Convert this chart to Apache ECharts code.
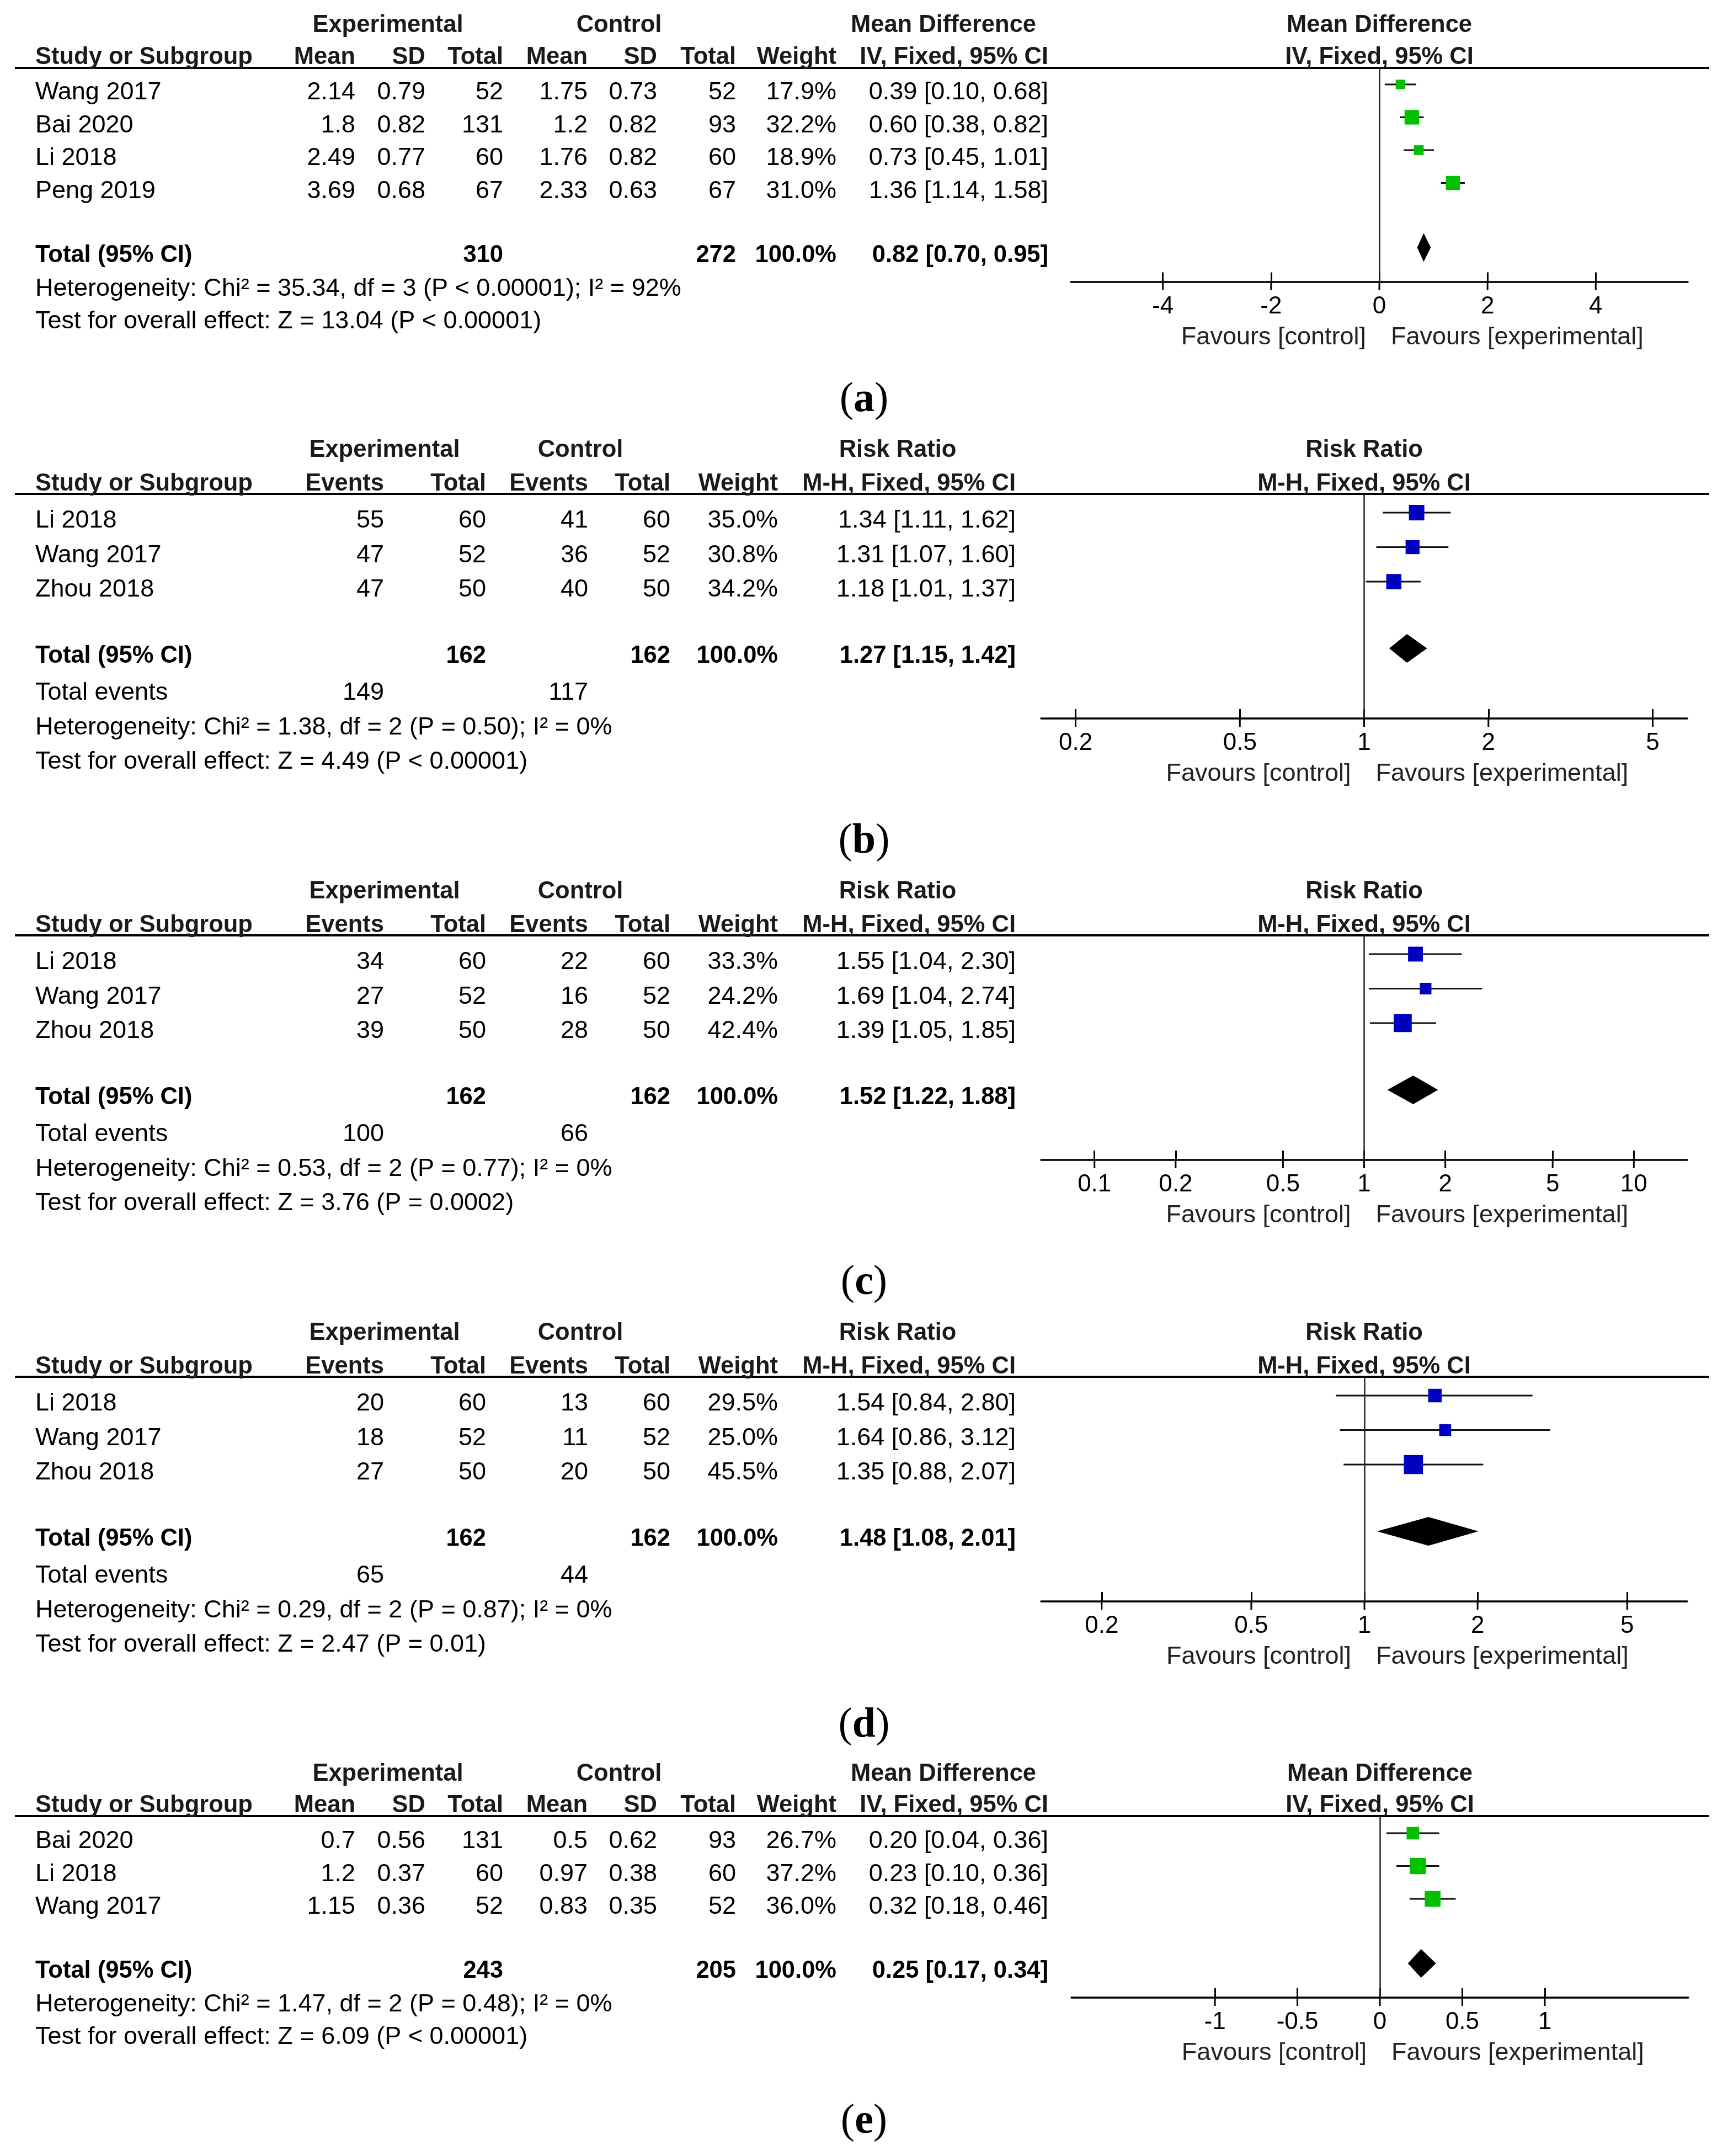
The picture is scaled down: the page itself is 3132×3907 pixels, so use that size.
<!DOCTYPE html>
<html><head><meta charset="utf-8">
<script src="https://cdn.jsdelivr.net/npm/echarts@6/dist/echarts.min.js"></script>
<style>html,body{margin:0;padding:0;background:#fff}#c{width:3132px;height:3907px}</style>
</head><body><div id="c"></div>
<script>
// ================= DATA =================
// (a) Mean Difference
const a_studies = ['Wang 2017', 'Bai 2020', 'Li 2018', 'Peng 2019'];
const a_expMean = [2.14, 1.8, 2.49, 3.69];
const a_expSD   = [0.79, 0.82, 0.77, 0.68];
const a_expN    = [52, 131, 60, 67];
const a_ctlMean = [1.75, 1.2, 1.76, 2.33];
const a_ctlSD   = [0.73, 0.82, 0.82, 0.63];
const a_ctlN    = [52, 93, 60, 67];
const a_weight  = [17.9, 32.2, 18.9, 31.0];
const a_est     = [0.39, 0.60, 0.73, 1.36];
const a_lo      = [0.10, 0.38, 0.45, 1.14];
const a_hi      = [0.68, 0.82, 1.01, 1.58];
const a_totalN  = [310, 272];
const a_totalCI = [0.82, 0.70, 0.95];
const a_het  = 'Heterogeneity: Chi² = 35.34, df = 3 (P < 0.00001); I² = 92%';
const a_test = 'Test for overall effect: Z = 13.04 (P < 0.00001)';
const a_ticks = [-4, -2, 0, 2, 4];

// (b) Risk Ratio
const b_studies = ['Li 2018', 'Wang 2017', 'Zhou 2018'];
const b_expEv  = [55, 47, 47];
const b_expN   = [60, 52, 50];
const b_ctlEv  = [41, 36, 40];
const b_ctlN   = [60, 52, 50];
const b_weight = [35.0, 30.8, 34.2];
const b_est = [1.34, 1.31, 1.18];
const b_lo  = [1.11, 1.07, 1.01];
const b_hi  = [1.62, 1.60, 1.37];
const b_totalN  = [162, 162];
const b_totalCI = [1.27, 1.15, 1.42];
const b_events  = [149, 117];
const b_het  = 'Heterogeneity: Chi² = 1.38, df = 2 (P = 0.50); I² = 0%';
const b_test = 'Test for overall effect: Z = 4.49 (P < 0.00001)';
const b_ticks = [0.2, 0.5, 1, 2, 5];

// (c) Risk Ratio
const c_studies = ['Li 2018', 'Wang 2017', 'Zhou 2018'];
const c_expEv  = [34, 27, 39];
const c_expN   = [60, 52, 50];
const c_ctlEv  = [22, 16, 28];
const c_ctlN   = [60, 52, 50];
const c_weight = [33.3, 24.2, 42.4];
const c_est = [1.55, 1.69, 1.39];
const c_lo  = [1.04, 1.04, 1.05];
const c_hi  = [2.30, 2.74, 1.85];
const c_totalN  = [162, 162];
const c_totalCI = [1.52, 1.22, 1.88];
const c_events  = [100, 66];
const c_het  = 'Heterogeneity: Chi² = 0.53, df = 2 (P = 0.77); I² = 0%';
const c_test = 'Test for overall effect: Z = 3.76 (P = 0.0002)';
const c_ticks = [0.1, 0.2, 0.5, 1, 2, 5, 10];

// (d) Risk Ratio
const d_studies = ['Li 2018', 'Wang 2017', 'Zhou 2018'];
const d_expEv  = [20, 18, 27];
const d_expN   = [60, 52, 50];
const d_ctlEv  = [13, 11, 20];
const d_ctlN   = [60, 52, 50];
const d_weight = [29.5, 25.0, 45.5];
const d_est = [1.54, 1.64, 1.35];
const d_lo  = [0.84, 0.86, 0.88];
const d_hi  = [2.80, 3.12, 2.07];
const d_totalN  = [162, 162];
const d_totalCI = [1.48, 1.08, 2.01];
const d_events  = [65, 44];
const d_het  = 'Heterogeneity: Chi² = 0.29, df = 2 (P = 0.87); I² = 0%';
const d_test = 'Test for overall effect: Z = 2.47 (P = 0.01)';
const d_ticks = [0.2, 0.5, 1, 2, 5];

// (e) Mean Difference
const e_studies = ['Bai 2020', 'Li 2018', 'Wang 2017'];
const e_expMean = [0.7, 1.2, 1.15];
const e_expSD   = [0.56, 0.37, 0.36];
const e_expN    = [131, 60, 52];
const e_ctlMean = [0.5, 0.97, 0.83];
const e_ctlSD   = [0.62, 0.38, 0.35];
const e_ctlN    = [93, 60, 52];
const e_weight  = [26.7, 37.2, 36.0];
const e_est     = [0.20, 0.23, 0.32];
const e_lo      = [0.04, 0.10, 0.18];
const e_hi      = [0.36, 0.36, 0.46];
const e_totalN  = [243, 205];
const e_totalCI = [0.25, 0.17, 0.34];
const e_het  = 'Heterogeneity: Chi² = 1.47, df = 2 (P = 0.48); I² = 0%';
const e_test = 'Test for overall effect: Z = 6.09 (P < 0.00001)';
const e_ticks = [-1, -0.5, 0, 0.5, 1];

// header texts
const mdHeader1 = ['Experimental', 'Control', 'Mean Difference'];
const mdHeader2 = ['Study or Subgroup', 'Mean', 'SD', 'Total', 'Mean', 'SD', 'Total', 'Weight', 'IV, Fixed, 95% CI'];
const mdPlotHeader = ['Mean Difference', 'IV, Fixed, 95% CI'];
const rrHeader1 = ['Experimental', 'Control', 'Risk Ratio'];
const rrHeader2 = ['Study or Subgroup', 'Events', 'Total', 'Events', 'Total', 'Weight', 'M-H, Fixed, 95% CI'];
const rrPlotHeader = ['Risk Ratio', 'M-H, Fixed, 95% CI'];
const favourLabels = ['Favours [control]', 'Favours [experimental]'];
const totalLabel = 'Total (95% CI)';
const eventsLabel = 'Total events';
const panelLetters = ['a', 'b', 'c', 'd', 'e'];

// ================= LAYOUT =================
const FONT = '"Liberation Sans", Arial, sans-serif';
const SERIF = '"Liberation Serif", "Times New Roman", serif';
const FS = 45;       // regular text
const FSB = 43.5;    // bold text
const TY = 3;        // vertical nudge for table text
const MD_COLS = [644, 771, 912, 1065, 1191, 1334, 1516, 1900];
const MD_H1X = [703, 1122, 1710];
const RR_COLS = [696, 881, 1066, 1215, 1410, 1841];
const RR_H1X = [697, 1052, 1627];
const STUDY_X = 64;
const GREEN = '#00C000', BLUE = '#0000C0';

const fmt2 = v => v.toFixed(2);
const ciText = (e, l, h) => fmt2(e) + ' [' + fmt2(l) + ', ' + fmt2(h) + ']';

const panels = [
  {kind: 'md', studies: a_studies, cols: [a_expMean, a_expSD, a_expN, a_ctlMean, a_ctlSD, a_ctlN],
   weight: a_weight, est: a_est, lo: a_lo, hi: a_hi, totN: a_totalN, totCI: a_totalCI, events: null,
   het: a_het, test: a_test, ticks: a_ticks,
   L: {h1: 41, h2: 101, line: 123, row0: 165, step: 59.5, plotL: 1941, plotR: 3059, min: -5.7, max: 5.7, log: false, nullV: 0, label: 725, color: GREEN}},
  {kind: 'rr', studies: b_studies, cols: [b_expEv, b_expN, b_ctlEv, b_ctlN],
   weight: b_weight, est: b_est, lo: b_lo, hi: b_hi, totN: b_totalN, totCI: b_totalCI, events: b_events,
   het: b_het, test: b_test, ticks: b_ticks,
   L: {h1: 811, h2: 874, line: 895, row0: 941, step: 62.5, plotL: 1887, plotR: 3058, min: 0.165, max: 6.06, log: true, nullV: 1, label: 1525, color: BLUE}},
  {kind: 'rr', studies: c_studies, cols: [c_expEv, c_expN, c_ctlEv, c_ctlN],
   weight: c_weight, est: c_est, lo: c_lo, hi: c_hi, totN: c_totalN, totCI: c_totalCI, events: c_events,
   het: c_het, test: c_test, ticks: c_ticks,
   L: {h1: 1611, h2: 1674, line: 1695, row0: 1741, step: 62.5, plotL: 1887, plotR: 3058, min: 0.0634, max: 15.77, log: true, nullV: 1, label: 2325, color: BLUE}},
  {kind: 'rr', studies: d_studies, cols: [d_expEv, d_expN, d_ctlEv, d_ctlN],
   weight: d_weight, est: d_est, lo: d_lo, hi: d_hi, totN: d_totalN, totCI: d_totalCI, events: d_events,
   het: d_het, test: d_test, ticks: d_ticks,
   L: {h1: 2411, h2: 2474, line: 2495, row0: 2541, step: 62.5, plotL: 1887, plotR: 3058, min: 0.138, max: 7.22, log: true, nullV: 1, label: 3127, color: BLUE}},
  {kind: 'md', studies: e_studies, cols: [e_expMean, e_expSD, e_expN, e_ctlMean, e_ctlSD, e_ctlN],
   weight: e_weight, est: e_est, lo: e_lo, hi: e_hi, totN: e_totalN, totCI: e_totalCI, events: null,
   het: e_het, test: e_test, ticks: e_ticks,
   L: {h1: 3210, h2: 3269, line: 3291, row0: 3334, step: 59.5, plotL: 1942, plotR: 3060, min: -1.87, max: 1.87, log: false, nullV: 0, label: 3845, color: GREEN}}
];

// ================= BUILD =================
const grids = [], xAxes = [], yAxes = [], series = [], graphics = [];
let gid = 0;
function txt(x, y, text, opt) {
  opt = opt || {};
  graphics.push({
    type: 'text', id: 't' + (gid++), x: x, y: y + TY, silent: true, z: 10,
    style: {
      text: String(text), fill: opt.fill || '#000',
      fontSize: opt.size || (opt.bold ? FSB : FS), fontFamily: opt.family || FONT, fontWeight: opt.bold ? 'bold' : 'normal',
      align: opt.align || 'left', verticalAlign: 'middle',
      textAlign: opt.align || 'left', textVerticalAlign: 'middle'
    }
  });
}
function hline(x1, x2, y, w) {
  graphics.push({type: 'line', id: 'l' + (gid++), silent: true, z: 5,
    shape: {x1: x1, y1: y, x2: x2, y2: y}, style: {stroke: '#000', lineWidth: w}});
}

const layoutInfo = [];
panels.forEach((p, k) => {
  const L = p.L, n = p.studies.length, md = p.kind === 'md';
  const totalY = L.row0 + (n - 1) * L.step + (md ? 116 : 120);
  const axisY = totalY + (md ? 51 : 116);
  const eventsY = totalY + 67;
  const hetY = totalY + (md ? 61 : 130);
  const testY = totalY + (md ? 120 : 192);
  const base = L.row0 - 12; // marker baseline for row 0
  const yMin = (L.line - base) / L.step;
  const yMax = (axisY - base) / L.step;
  const diamondRow = (totalY - 11 - base) / L.step;
  layoutInfo.push({axisY: axisY, nullV: L.nullV});

  // ---- table text ----
  const cols = md ? MD_COLS : RR_COLS;
  const h1x = md ? MD_H1X : RR_H1X;
  const h1 = md ? mdHeader1 : rrHeader1;
  const h2 = md ? mdHeader2 : rrHeader2;
  const ph = md ? mdPlotHeader : rrPlotHeader;
  const hc = '#1a1a1a';
  h1.forEach((t, i) => txt(h1x[i], L.h1 + 2, t, {bold: true, align: 'center', fill: hc}));
  txt(STUDY_X, L.h2, h2[0], {bold: true, fill: hc});
  for (let i = 1; i < h2.length; i++) txt(cols[i - 1], L.h2, h2[i], {bold: true, align: 'right', fill: hc});
  const pc = (L.plotL + L.plotR) / 2;
  txt(pc, L.h1 + 2, ph[0], {bold: true, align: 'center', fill: hc});
  txt(pc, L.h2, ph[1], {bold: true, align: 'center', fill: hc});
  hline(27, 3098, L.line, 4);

  p.studies.forEach((s, i) => {
    const y = L.row0 + i * L.step;
    txt(STUDY_X, y, s);
    p.cols.forEach((arr, j) => txt(cols[j], y, String(arr[i]), {align: 'right'}));
    txt(cols[p.cols.length], y, p.weight[i].toFixed(1) + '%', {align: 'right'});
    txt(cols[p.cols.length + 1], y, ciText(p.est[i], p.lo[i], p.hi[i]), {align: 'right'});
  });
  txt(STUDY_X, totalY, totalLabel, {bold: true});
  if (md) {
    txt(cols[2], totalY, p.totN[0], {bold: true, align: 'right'});
    txt(cols[5], totalY, p.totN[1], {bold: true, align: 'right'});
  } else {
    txt(cols[1], totalY, p.totN[0], {bold: true, align: 'right'});
    txt(cols[3], totalY, p.totN[1], {bold: true, align: 'right'});
    txt(STUDY_X, eventsY, eventsLabel);
    txt(cols[0], eventsY, p.events[0], {align: 'right'});
    txt(cols[2], eventsY, p.events[1], {align: 'right'});
  }
  txt(cols[p.cols.length], totalY, '100.0%', {bold: true, align: 'right'});
  txt(cols[p.cols.length + 1], totalY, ciText(p.totCI[0], p.totCI[1], p.totCI[2]), {bold: true, align: 'right'});
  txt(STUDY_X, hetY, p.het);
  txt(STUDY_X, testY, p.test);

  // panel letter
  graphics.push({type: 'text', id: 'lab' + k, x: 1566, y: L.label, silent: true,
    style: {text: '{p|(}{b|' + panelLetters[k] + '}{p|)}', align: 'center', verticalAlign: 'middle',
      textAlign: 'center', textVerticalAlign: 'middle',
      rich: {p: {fontFamily: SERIF, fontSize: 76, fontWeight: 'normal', fill: '#000', color: '#000'},
             b: {fontFamily: SERIF, fontSize: 76, fontWeight: 'bold', fill: '#000', color: '#000'}}}});

  // ---- plot ----
  grids.push({left: L.plotL, top: L.line, width: L.plotR - L.plotL, height: axisY - L.line, containLabel: false, show: false});
  const fmtTick = v => String(parseFloat(Number(v).toPrecision(6)));
  xAxes.push({
    gridIndex: k, type: L.log ? 'log' : 'value', logBase: 10, min: L.min, max: L.max, position: 'bottom',
    axisLine: {show: true, onZero: false, lineStyle: {color: '#000', width: 3.5}},
    axisTick: {show: true, inside: true, length: 17, lineStyle: {color: '#000', width: 3}, customValues: p.ticks},
    axisLabel: {show: true, customValues: p.ticks, margin: 23, fontSize: 44, fontFamily: FONT, color: '#000', formatter: fmtTick},
    splitLine: {show: false}, minorTick: {show: false}
  });
  yAxes.push({gridIndex: k, type: 'value', min: yMin, max: yMax, inverse: true, show: false, splitLine: {show: false}});

  const color = L.color;
  // studies: CI line + square
  series.push({
    type: 'custom', xAxisIndex: k, yAxisIndex: k, silent: true, clip: false, z: 3,
    data: p.est.map((e, i) => [e, p.lo[i], p.hi[i], i, p.weight[i]]),
    encode: {x: [0, 1, 2], y: 3},
    renderItem: (params, api) => {
      const y = api.value(3);
      const a = api.coord([api.value(1), y]);
      const b = api.coord([api.value(2), y]);
      const c = api.coord([api.value(0), y]);
      const s = 5.6 + 0.64 * api.value(4);
      return {type: 'group', children: [
        {type: 'line', shape: {x1: a[0], y1: a[1], x2: b[0], y2: b[1]}, style: {stroke: '#111', lineWidth: 3}},
        {type: 'rect', shape: {x: c[0] - s / 2, y: c[1] - s / 2, width: s, height: s}, style: {fill: color}}
      ]};
    },
    markLine: {silent: true, symbol: ['none', 'none'], label: {show: false}, animation: false,
      lineStyle: {color: '#222', width: 2.5, type: 'solid'}, data: [{xAxis: L.nullV}]}
  });
  // pooled diamond
  series.push({
    type: 'custom', xAxisIndex: k, yAxisIndex: k, silent: true, clip: false, z: 4,
    data: [[p.totCI[0], p.totCI[1], p.totCI[2], diamondRow]],
    encode: {x: [0, 1, 2], y: 3},
    renderItem: (params, api) => {
      const y = api.value(3);
      const l = api.coord([api.value(1), y]);
      const h = api.coord([api.value(2), y]);
      const c = api.coord([api.value(0), y]);
      return {type: 'polygon', shape: {points: [[l[0], l[1]], [c[0], c[1] - 26], [h[0], h[1]], [c[0], c[1] + 26]]},
        style: {fill: '#000'}};
    }
  });
  // lower half of tick marks (ticks cross the axis line)
  series.push({
    type: 'custom', xAxisIndex: k, yAxisIndex: k, silent: true, clip: false, z: 4,
    data: p.ticks.map(v => [v, yMax]),
    encode: {x: 0, y: 1},
    renderItem: (params, api) => {
      const c = api.coord([api.value(0), api.value(1)]);
      return {type: 'line', shape: {x1: c[0], y1: c[1], x2: c[0], y2: c[1] + 15}, style: {stroke: '#000', lineWidth: 3}};
    }
  });
});

const chart = echarts.init(document.getElementById('c'), null, {renderer: 'canvas', devicePixelRatio: 1});
chart.setOption({
  backgroundColor: '#fff', animation: false,
  grid: grids, xAxis: xAxes, yAxis: yAxes, series: series,
  graphic: {elements: graphics}
});

// favours labels placed around the null line, converted through each axis
const fav = [];
layoutInfo.forEach((info, k) => {
  const nx = chart.convertToPixel({xAxisIndex: k}, info.nullV);
  const y = info.axisY + 101;
  [[nx - 24, 'right', favourLabels[0]], [nx + 21, 'left', favourLabels[1]]].forEach((f, j) => {
    fav.push({type: 'text', id: 'fav' + k + '_' + j, x: f[0], y: y, silent: true,
      style: {text: f[2], fill: '#222', fontSize: 45, fontFamily: FONT, align: f[1], verticalAlign: 'middle',
        textAlign: f[1], textVerticalAlign: 'middle'}});
  });
});
chart.setOption({graphic: {elements: fav}});
</script>
</body></html>
